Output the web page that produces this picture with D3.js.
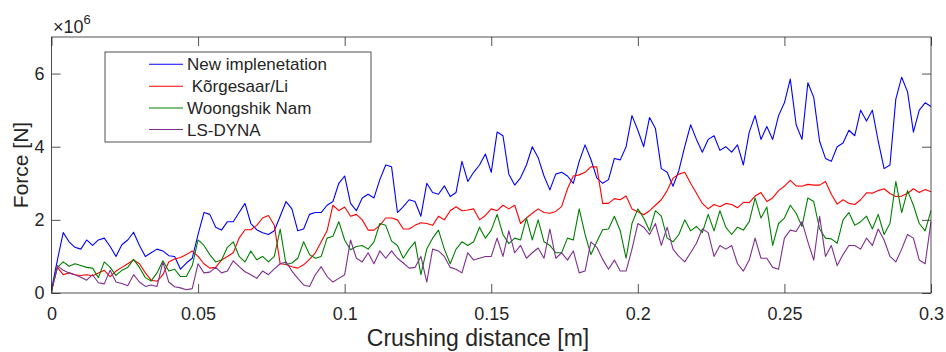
<!DOCTYPE html>
<html><head><meta charset="utf-8">
<script src="https://cdn.jsdelivr.net/npm/d3@7"></script>
<style>
html,body{margin:0;padding:0;background:#fff;}
svg text{font-family:"Liberation Sans",Arial,Helvetica,sans-serif;fill:#262626;}
</style></head>
<body><svg id="chart" width="946" height="352"></svg>
<script>
// ---- data (force in units of 1e6 N, sampled every 0.002 m) ----
const seriesNames = ["New implenetation", " K\u00f5rgesaar/Li", "Woongshik Nam", "LS-DYNA"];
const seriesColors = ["#0000ff", "#ff0000", "#008000", "#7e2f8e"];
const xTicks = [0, 0.05, 0.1, 0.15, 0.2, 0.25, 0.3];
const xTickLabels = ["0", "0.05", "0.1", "0.15", "0.2", "0.25", "0.3"];
const yTicks = [0, 2, 4, 6];
const yTickLabels = ["0", "2", "4", "6"];
const xStep = 0.002;

const newImpl = [0.09,0.9,1.65,1.4,1.25,1.2,1.45,1.3,1.45,1.5,
 1.27,1.0,1.32,1.45,1.66,1.3,1.0,1.1,1.2,1.15,
 1.02,1.0,0.65,0.82,0.95,1.6,2.2,2.15,1.8,1.72,
 1.95,1.95,2.2,2.45,1.9,1.73,1.65,1.6,1.7,2.1,
 2.5,2.3,1.7,1.75,2.15,2.2,2.2,2.4,2.5,3.0,
 3.2,2.45,2.25,2.6,2.7,2.6,3.1,3.5,3.45,2.2,
 2.36,2.55,2.5,2.1,3.0,2.75,2.7,2.93,2.64,2.75,
 3.6,3.05,3.3,3.5,3.8,3.3,4.4,4.3,3.25,2.95,
 3.15,3.5,4.0,3.7,3.2,2.82,3.25,3.3,3.2,3.0,
 3.6,4.05,3.65,3.15,3.0,3.1,3.68,3.64,4.0,4.85,
 4.45,4.0,4.8,4.5,3.4,3.3,2.92,3.35,4.0,4.6,
 4.2,3.85,4.2,4.3,3.9,4.0,3.85,4.05,3.5,4.4,
 4.85,4.2,4.55,4.2,4.85,5.2,5.85,4.6,4.2,5.75,
 5.35,4.15,3.68,3.6,4.0,4.1,4.45,4.3,5.0,4.7,
 5.0,4.15,3.4,3.5,5.3,5.9,5.5,4.4,5.0,5.2,
 5.1];
const korgesaar = [0.05,0.7,0.5,0.55,0.5,0.48,0.5,0.47,0.55,0.62,
 0.45,0.6,0.7,0.8,0.9,0.8,0.55,0.35,0.32,0.5,
 0.85,0.93,0.97,1.05,1.15,1.0,0.8,0.68,0.7,0.9,
 1.0,1.1,1.5,1.73,1.73,1.85,2.05,2.12,1.85,0.8,
 0.78,0.72,0.68,0.77,0.92,1.1,1.4,1.7,2.4,2.25,
 2.35,2.1,2.15,2.0,1.72,1.72,1.85,2.05,2.05,2.0,
 1.75,1.75,1.85,1.92,1.9,1.85,2.1,2.0,2.25,2.36,
 2.25,2.27,2.3,2.0,2.12,2.3,2.25,2.4,2.3,2.4,
 1.9,2.05,2.18,2.3,2.2,2.18,2.23,2.36,2.85,3.2,
 3.23,3.3,3.45,3.45,2.45,2.45,2.58,2.55,2.65,2.3,
 2.22,2.14,2.25,2.4,2.55,2.8,3.14,3.25,3.3,3.0,
 2.73,2.45,2.3,2.42,2.36,2.45,2.42,2.33,2.48,2.47,
 2.65,2.75,2.5,2.6,2.8,2.92,3.08,2.93,2.92,2.97,
 2.95,2.95,3.05,2.7,2.43,2.55,2.45,2.42,2.55,2.74,
 2.73,2.8,2.85,2.72,2.64,2.65,2.72,2.85,2.75,2.83,
 2.77];
const woongshik = [0.05,0.7,0.85,0.73,0.8,0.75,0.7,0.68,0.42,0.85,
 0.7,0.48,0.62,0.7,0.92,0.7,0.42,0.33,0.55,0.88,
 0.6,0.65,0.45,0.45,0.75,1.45,1.3,1.05,0.85,0.9,
 1.25,1.4,1.0,0.85,1.15,0.91,1.0,0.85,1.0,1.75,
 0.78,0.82,0.95,1.4,1.05,0.95,1.0,1.5,1.55,1.95,
 1.45,1.18,1.27,1.3,1.2,1.4,1.9,1.85,1.42,1.3,
 0.95,1.2,1.4,0.5,1.2,1.5,1.72,1.2,0.8,1.2,
 1.4,1.3,1.4,1.8,1.5,1.72,2.15,1.6,1.35,1.5,
 1.45,2.05,1.45,2.0,1.4,1.3,1.1,1.1,1.5,1.45,
 2.3,1.6,1.05,1.4,1.73,1.75,2.1,1.7,0.95,1.9,
 2.3,2.05,1.7,2.25,2.1,1.5,1.4,1.6,2.0,1.7,
 1.82,1.65,2.15,1.7,2.25,1.8,1.6,1.8,1.72,1.95,
 2.6,2.05,2.35,1.3,1.9,2.05,2.4,2.18,1.82,2.6,
 2.5,1.75,1.5,1.48,1.36,2.0,2.2,1.85,1.95,2.1,
 1.75,2.15,1.6,1.9,3.05,2.2,2.8,2.4,1.9,1.7,
 2.25];
const lsDyna = [0.05,0.75,0.62,0.55,0.5,0.43,0.35,0.5,0.28,0.25,
 0.62,0.3,0.26,0.2,0.5,0.3,0.18,0.22,0.18,0.85,
 0.3,0.17,0.14,0.09,0.12,0.8,0.55,0.57,0.7,0.55,
 0.6,0.88,0.72,0.58,0.5,0.4,0.6,0.5,0.66,0.8,
 0.85,0.6,0.4,0.22,0.18,0.5,0.72,0.45,0.3,0.4,
 0.5,1.45,0.95,0.85,1.1,0.8,1.15,0.95,1.15,0.95,
 0.82,0.68,0.7,1.0,0.3,1.2,1.15,1.0,0.7,0.65,
 0.55,1.1,0.9,0.95,1.0,1.0,1.5,1.0,1.7,1.1,
 1.3,0.95,1.1,1.23,0.95,1.75,0.95,1.1,0.9,1.15,
 0.55,0.6,1.4,1.25,0.92,0.65,0.9,0.6,0.6,1.2,
 1.9,1.8,1.6,1.9,1.3,1.8,1.2,1.0,0.85,1.1,
 1.36,1.75,1.65,1.0,1.3,1.2,1.3,0.8,0.6,0.9,
 1.5,0.95,0.95,0.7,0.65,1.5,1.72,1.68,1.95,1.4,
 0.9,2.1,1.0,1.3,0.75,1.05,1.3,1.3,1.2,1.5,
 1.3,1.75,1.45,1.0,0.85,1.2,1.6,1.5,0.9,0.8,
 1.95];
const allSeries = [newImpl, korgesaar, woongshik, lsDyna];

// ---- layout ----
const plotLeft = 51.5, plotRight = 931, plotTop = 37, plotBottom = 293;
const svg = d3.select("#chart");
const xScale = d3.scaleLinear().domain([0, 0.3]).range([plotLeft, plotRight]);
const yScale = d3.scaleLinear().domain([0, 7]).range([plotBottom, plotTop]);
const axisColor = "#262626";

// series
const lineGen = d3.line().x((d, i) => xScale(i * xStep)).y(d => yScale(d));
allSeries.forEach((s, k) => {
  svg.append("path").datum(s)
    .attr("d", lineGen)
    .attr("fill", "none")
    .attr("stroke", seriesColors[k])
    .attr("stroke-width", 1.1)
    .attr("stroke-linejoin", "round");
});

// axes (MATLAB style box with inward ticks)
const tickLen = 9;
const bottomAxis = d3.axisBottom(xScale).tickValues(xTicks).tickFormat((d, i) => xTickLabels[i]).tickSizeInner(-tickLen).tickSizeOuter(0).tickPadding(14);
const topAxis = d3.axisTop(xScale).tickValues(xTicks).tickFormat("").tickSizeInner(-tickLen).tickSizeOuter(0);
const leftAxis = d3.axisLeft(yScale).tickValues(yTicks).tickFormat((d, i) => yTickLabels[i]).tickSizeInner(-tickLen).tickSizeOuter(0).tickPadding(7);
const rightAxis = d3.axisRight(yScale).tickValues(yTicks).tickFormat("").tickSizeInner(-tickLen).tickSizeOuter(0);

function styleAxis(g) {
  g.select(".domain").remove();
  g.selectAll(".tick line").attr("stroke", axisColor).attr("stroke-width", 0.8);
  g.selectAll(".tick text").attr("fill", axisColor).style("font-size", "18px")
    .style("font-family", "'Liberation Sans', Arial, Helvetica, sans-serif");
}
svg.append("g").attr("transform", `translate(0,${plotBottom})`).call(bottomAxis).call(styleAxis);
svg.append("g").attr("transform", `translate(0,${plotTop})`).call(topAxis).call(styleAxis);
svg.append("g").attr("transform", `translate(${plotLeft},0)`).call(leftAxis).call(styleAxis);
svg.append("g").attr("transform", `translate(${plotRight},0)`).call(rightAxis).call(styleAxis);

// box
svg.append("rect").attr("x", plotLeft).attr("y", plotTop).attr("width", plotRight - plotLeft).attr("height", plotBottom - plotTop)
  .attr("fill", "none").attr("stroke", axisColor).attr("stroke-width", 0.8);

// exponent label
const expo = svg.append("text").attr("x", 53).attr("y", 33).style("font-size", "18px");
expo.append("tspan").text("\u00d710");
expo.append("tspan").attr("dy", -9).style("font-size", "13px").text("6");

// axis labels
svg.append("text").attr("x", 478).attr("y", 346).attr("text-anchor", "middle")
  .style("font-size", "23px").text("Crushing distance [m]");
svg.append("text").attr("transform", `translate(28,${(plotTop + plotBottom) / 2}) rotate(-90)`).attr("text-anchor", "middle")
  .style("font-size", "21px").text("Force [N]");

// legend
const lg = svg.append("g");
lg.append("rect").attr("x", 105).attr("y", 52).attr("width", 266).attr("height", 90)
  .attr("fill", "#fff").attr("stroke", axisColor).attr("stroke-width", 0.8);
const rowY = [64.3, 86.3, 108.0, 129.5];
seriesNames.forEach((n, k) => {
  lg.append("line").attr("x1", 149).attr("x2", 183).attr("y1", rowY[k]).attr("y2", rowY[k])
    .attr("stroke", seriesColors[k]).attr("stroke-width", 1.1);
  lg.append("text").attr("x", 187).attr("y", rowY[k] + 6).style("font-size", "17px")
    .style("white-space", "pre").attr("xml:space", "preserve").text(n);
});
</script></body></html>
